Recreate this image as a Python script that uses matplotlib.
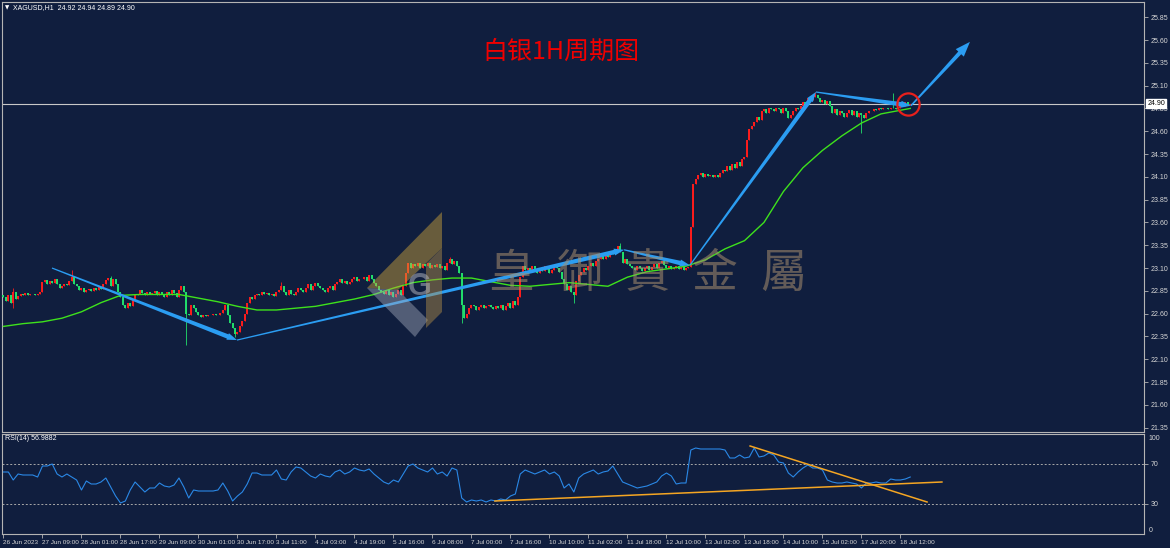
import numpy as np
import matplotlib
matplotlib.use("Agg")
import matplotlib.pyplot as plt
from matplotlib.patches import Polygon
from matplotlib.transforms import IdentityTransform

W, H = 1170, 548
BG = "#101e3e"
UP = "#ff1c1c"      # rising candles are red on this chart
DOWN = "#22e06c"
FRAME = "#b4b4b4"
LABEL = "#d6d6d6"

symbol_header = "XAGUSD,H1  24.92 24.94 24.89 24.90"
rsi_header = "RSI(14) 56.9882"
title = "白银1H周期图"
watermark = "皇御貴金屬"

# hourly closes, 26 Jun 17:00 ... 18 Jul ~16:00
first_open = 22.80
closes = [
    22.78, 22.74, 22.80, 22.72, 22.84, 22.76, 22.79,
    22.81, 22.80, 22.83, 22.80, 22.82, 22.81, 22.80, 22.82,
    22.84, 22.95, 22.97, 22.93, 22.96, 22.94, 22.98,
    22.92, 22.88, 22.90, 22.93, 22.91, 22.96, 23.00, 22.93, 22.90,
    22.86, 22.88, 22.84, 22.86, 22.87, 22.85, 22.88, 22.86, 22.89, 22.87,
    22.92, 22.97, 22.99, 22.90, 22.98, 22.92,
    22.84, 22.78, 22.70, 22.66, 22.72, 22.68, 22.76, 22.80,
    22.82, 22.86, 22.83, 22.80, 22.84, 22.82, 22.83, 22.85, 22.80, 22.84,
    22.82, 22.78, 22.84, 22.80, 22.86, 22.83, 22.78, 22.86, 22.90, 22.84,
    22.60, 22.58, 22.70, 22.66, 22.62, 22.58,
    22.56, 22.58, 22.57, 22.59, 22.58, 22.60, 22.58, 22.59, 22.61, 22.64, 22.70,
    22.58, 22.50, 22.44, 22.38, 22.40,
    22.46, 22.52, 22.60, 22.72, 22.78, 22.76, 22.80,
    22.82, 22.80, 22.84, 22.81, 22.83, 22.80, 22.82, 22.79, 22.84, 22.86,
    22.90, 22.84, 22.80, 22.86, 22.82, 22.80, 22.84, 22.88,
    22.86, 22.84, 22.88, 22.92, 22.86, 22.90, 22.94, 22.90, 22.88, 22.86,
    22.84, 22.88, 22.90, 22.86, 22.92, 22.95, 22.98, 22.94, 22.96, 22.92,
    22.95, 22.98, 23.00, 22.96, 22.98,
    22.98, 23.00, 22.96, 23.02, 22.98, 22.94, 22.90, 22.86, 22.84,
    22.82, 22.86, 22.80, 22.84, 22.78, 22.82, 22.86, 22.80,
    22.90, 23.05, 23.16, 23.10, 23.14,
    23.12, 23.16, 23.10, 23.14, 23.12, 23.15, 23.10, 23.13, 23.11, 23.14,
    23.10, 23.12, 23.08, 23.15, 23.20, 23.14, 23.18, 23.12,
    23.05, 22.70, 22.55, 22.60,
    22.66, 22.70, 22.68, 22.64, 22.67, 22.69, 22.66, 22.68, 22.70, 22.67,
    22.65, 22.68, 22.66, 22.70, 22.64, 22.68, 22.72, 22.66, 22.74, 22.70, 22.78,
    23.00, 23.12, 23.08,
    23.10, 23.06, 23.12, 23.08, 23.04, 23.10, 23.07, 23.12, 23.09, 23.05,
    23.08, 23.12, 23.10, 23.06,
    22.98, 22.92, 22.86, 22.90, 22.84, 22.80, 22.96,
    23.02, 23.06, 23.10, 23.08, 23.12, 23.15, 23.12, 23.18, 23.20,
    23.24, 23.20, 23.26, 23.22, 23.28, 23.25, 23.30, 23.34, 23.28,
    23.16, 23.20, 23.14, 23.12, 23.10, 23.08, 23.12, 23.10, 23.07,
    23.10, 23.12, 23.08, 23.11, 23.14, 23.10, 23.16, 23.18, 23.13, 23.10,
    23.12, 23.09,
    23.10, 23.12, 23.09, 23.11, 23.08, 23.10, 23.11,
    23.55, 24.02, 24.08,
    24.12, 24.14, 24.10, 24.13, 24.11, 24.12, 24.10, 24.12, 24.10,
    24.14, 24.18, 24.16, 24.22, 24.18, 24.24, 24.20, 24.26, 24.22, 24.30,
    24.32, 24.50, 24.62, 24.66, 24.70,
    24.76, 24.72, 24.82, 24.84, 24.80, 24.86, 24.84, 24.82, 24.86, 24.84,
    24.80, 24.85, 24.82, 24.74, 24.78, 24.82, 24.86, 24.84,
    24.88, 24.92, 24.90, 24.96, 24.94, 24.98, 25.00,
    24.96, 24.92, 24.94, 24.90, 24.93, 24.88,
    24.80, 24.84, 24.78, 24.82, 24.80, 24.76, 24.80, 24.83, 24.78, 24.82,
    24.76, 24.80, 24.78, 24.74, 24.80, 24.82,
    24.82, 24.84, 24.83, 24.85, 24.84, 24.86, 24.85, 24.84, 24.86, 24.85,
    24.84, 24.86,
    24.90, 24.88, 24.92, 24.89, 24.90,
]
# only the wicks that stand out
wick_high = {4: 22.88, 28: 23.08, 44: 23.01, 114: 22.95, 183: 23.22,
             253: 23.37, 333: 25.03, 365: 25.02}
wick_low = {4: 22.66, 75: 22.26, 95: 22.34, 188: 22.50, 234: 22.72, 352: 24.58}

# green moving average, sampled every 8 bars
ma_bars = list(range(0, 369, 8)) + [372]
ma_values = [
    22.46, 22.49, 22.51, 22.55, 22.62, 22.72, 22.80, 22.81, 22.81, 22.81,
    22.77, 22.73, 22.68, 22.64, 22.64, 22.66, 22.68, 22.72, 22.76, 22.81,
    22.88, 22.94, 22.97, 22.99, 22.99, 22.95, 22.91, 22.90, 22.92, 22.94,
    22.92, 22.90, 23.00, 23.06, 23.09, 23.12, 23.19, 23.31, 23.40, 23.60,
    23.94, 24.20, 24.39, 24.55, 24.69, 24.79, 24.83, 24.85,
]

# RSI(14), sampled every 2 bars
rsi_step = 2
rsi_values = [
    62, 62, 54, 60, 59, 59, 59, 57, 68, 68, 70,
    60, 57, 60, 57, 54, 44, 53, 50, 50, 52,
    56, 47, 38, 31, 33, 44, 52, 47, 42, 46,
    46, 51, 48, 47, 49, 56, 47, 36, 44, 43,
    43, 43, 43, 44, 51, 43, 33, 38, 42, 50,
    61, 61, 59, 59, 59, 64, 55, 54, 62, 67,
    66, 62, 58, 56, 60, 58, 57, 62, 64, 60,
    62, 66, 64, 63, 65, 60, 56, 52, 50, 54,
    52, 60, 68, 70, 66, 64, 62, 66, 60, 62,
    58, 66, 64, 36, 32, 34, 33, 34, 32, 34,
    33, 35, 34, 38, 40, 60, 64, 62, 60, 62,
    64, 60, 62, 58, 46, 50, 42, 56, 60, 62,
    64, 60, 62, 63, 68, 60, 52, 50, 48, 46,
    47, 48, 50, 52, 58, 61, 58, 50, 51, 51,
    84, 86, 85, 85, 85, 85, 85, 84, 76, 76,
    79, 76, 77, 86, 77, 78, 81, 79, 72, 71,
    61, 57, 62, 66, 69, 66, 66, 64, 54, 52,
    51, 51, 52, 51, 50, 46, 51, 51, 52, 51,
    51, 55, 54, 54, 55, 57,
]

price_ticks = np.arange(21.35, 25.86, 0.25)
label_step = 16
time_labels = ["26 Jun 2023", "27 Jun 09:00", "28 Jun 01:00", "28 Jun 17:00",
               "29 Jun 09:00", "30 Jun 01:00", "30 Jun 17:00", "3 Jul 11:00",
               "4 Jul 03:00", "4 Jul 19:00", "5 Jul 16:00", "6 Jul 08:00",
               "7 Jul 00:00", "7 Jul 16:00", "10 Jul 10:00", "11 Jul 02:00",
               "11 Jul 18:00", "12 Jul 10:00", "13 Jul 02:00", "13 Jul 18:00",
               "14 Jul 10:00", "15 Jul 02:00", "17 Jul 20:00", "18 Jul 12:00"]
last_price = 24.90

# hand drawn trend arrows (bar, price) and RSI trend lines (bar, rsi)
trend_arrows = [((19.9, 23.10), (95.8, 22.31)),
                ((95.8, 22.31), (254.6, 23.30)),
                ((254.6, 23.30), (281.6, 23.13)),
                ((281.6, 23.13), (333.3, 25.03)),
                ((333.3, 25.03), (372.3, 24.88)),
                ((372.3, 24.88), (396.5, 25.58))]
rsi_lines = [((306.3, 88), (378.9, 32)), ((201.6, 33), (385.0, 52))]

plt.rcParams["font.family"] = ["Liberation Sans", "DejaVu Sans"]
fig = plt.figure(figsize=(W / 100, H / 100), dpi=100, facecolor=BG)


def frac(x0, y0, x1, y1):
    return [x0 / W, 1 - y1 / H, (x1 - x0) / W, (y1 - y0) / H]


ax = fig.add_axes(frac(2, 2, 1144, 432), facecolor=BG)
ax2 = fig.add_axes(frac(2, 434, 1144, 534), facecolor=BG)
for a in (ax, ax2):
    for s in a.spines.values():
        s.set_color(FRAME)
        s.set_linewidth(0.8)
    a.set_xlim(-0.6, 467.9)

# candles
n = len(closes)
bars = np.arange(n)
c = np.array(closes)
o = np.concatenate([[first_open], c[:-1]])
col = np.where(c >= o, UP, DOWN)
hi = np.maximum(o, c)
lo = np.minimum(o, c)
for b, v in wick_high.items():
    hi[b] = v
for b, v in wick_low.items():
    lo[b] = v
ax.vlines(bars, lo, hi, colors=col, lw=0.6, zorder=3)
ax.vlines(bars, np.minimum(o, c), np.maximum(o, c), colors=col, lw=1.4, zorder=3)
ax.plot(ma_bars, ma_values, color="#3ee21c", lw=1.0, zorder=4)
ax.axhline(last_price, color="#c8c8c8", lw=0.8, zorder=2)

ax.set_ylim(21.302, 26.017)
ax.set_xticks([])
ax.set_yticks(price_ticks)
ax.set_yticklabels([f"{t:.2f}" for t in price_ticks])
ax.tick_params(axis="y", left=False, labelleft=False, right=True, labelright=True,
               length=3, width=0.6, color=FRAME, labelcolor=LABEL, labelsize=5, pad=2)
ax.text(1.003, last_price, f"{last_price:.2f}", transform=ax.get_yaxis_transform(),
        ha="left", va="center", fontsize=5, color="black", zorder=10, clip_on=False,
        bbox=dict(boxstyle="square,pad=0.15", fc="white", ec="white"))

# RSI panel
rsi_bars = np.arange(len(rsi_values)) * rsi_step
ax2.plot(rsi_bars, rsi_values, color="#2a88e6", lw=0.8, zorder=3)
for lvl in (30, 70):
    ax2.axhline(lvl, color="#a8a8a8", lw=0.7, ls=(0, (2, 2)), zorder=1)
for (b0, r0), (b1, r1) in rsi_lines:
    ax2.plot([b0, b1], [r0, r1], color="#f5a623", lw=1.1, zorder=4)
ax2.set_ylim(0, 100)
ax2.set_yticks([30, 70])
ax2.tick_params(axis="y", left=False, labelleft=False, right=True, labelright=True,
                length=3, width=0.6, color=FRAME, labelcolor=LABEL, labelsize=5, pad=2)
for lbl, yv in (("100", 95.5), ("0", 4)):
    ax2.text(1.004, yv, lbl, transform=ax2.get_yaxis_transform(), ha="left",
             va="center", fontsize=5, color=LABEL, clip_on=False)
label_bars = np.arange(len(time_labels)) * label_step
ax2.set_xticks(label_bars)
ax2.set_xticklabels(time_labels, ha="left")
ax2.tick_params(axis="x", length=3, width=0.6, color=FRAME, labelcolor=LABEL,
                labelsize=4.6, pad=1.5)
for t in ax2.get_xticklabels():
    t.set_x(t.get_position()[0])

# headers and title
fig.text(5 / W, 1 - 8 / H, "\u25bc", fontsize=4, color="white", va="center",
         family="DejaVu Sans")
fig.text(13 / W, 1 - 8 / H, symbol_header, fontsize=5, color="white", va="center")
fig.text(5 / W, 1 - 439 / H, rsi_header, fontsize=5, color="white", va="center")
fig.text(561 / W, 1 - 52 / H, title, fontsize=18, color="#f00000", ha="center",
         va="center", family=["Noto Sans CJK SC", "DejaVu Sans"])


# tapered arrows, built in pixel space so they keep their shape
def taper_arrow(axis, p0, p1, w0=1.2, w1=4.5, head_len=10, head_w=7, color="#2b9df2"):
    s = axis.transData.transform(p0)
    e = axis.transData.transform(p1)
    d = e - s
    u = d / np.hypot(*d)
    nrm = np.array([-u[1], u[0]])
    b = e - u * head_len
    pts = [s + nrm * w0 / 2, b + nrm * w1 / 2, b + nrm * head_w / 2, e,
           b - nrm * head_w / 2, b - nrm * w1 / 2, s - nrm * w0 / 2]
    axis.add_patch(Polygon(pts, closed=True, fc=color, ec="none",
                           transform=IdentityTransform(), zorder=6))


for k, (p0, p1) in enumerate(trend_arrows):
    if k == len(trend_arrows) - 1:
        taper_arrow(ax, p0, p1, w0=1.5, w1=4, head_len=15, head_w=11)
    else:
        taper_arrow(ax, p0, p1)

ax.plot(371, last_price, marker="o", ms=16, mfc="none", mec="#e8201c", mew=1.6, zorder=7)

# watermark logo and name
def px(x, y):
    return x / W, 1 - y / H


logo_gold = [(442, 212), (442, 248), (398, 290), (367, 288)]
logo_gray = [(367, 288), (398, 290), (428, 320), (415, 337)]
logo_side = [(426, 264), (442, 248), (442, 312), (426, 328)]
for shape, fc in ((logo_gold, "#d4a83a"), (logo_gray, "#a3abbb"), (logo_side, "#b8924a")):
    fig.patches.append(Polygon([px(*p) for p in shape], closed=True, fc=fc, ec="none",
                               alpha=0.45, transform=fig.transFigure, zorder=8))
fig.text(*px(420, 287), "G", fontsize=22, fontweight="bold", color="#b8bcc6",
         alpha=0.5, ha="center", va="center", zorder=8)
for k, ch in enumerate(watermark):
    fig.text(*px(511 + 68 * k, 274), ch, fontsize=33, color="#a88f6e", alpha=0.55,
             ha="center", va="center", zorder=8, family=["Noto Sans CJK TC", "DejaVu Sans"])

fig.savefig("out.png", dpi=100, facecolor=BG)
